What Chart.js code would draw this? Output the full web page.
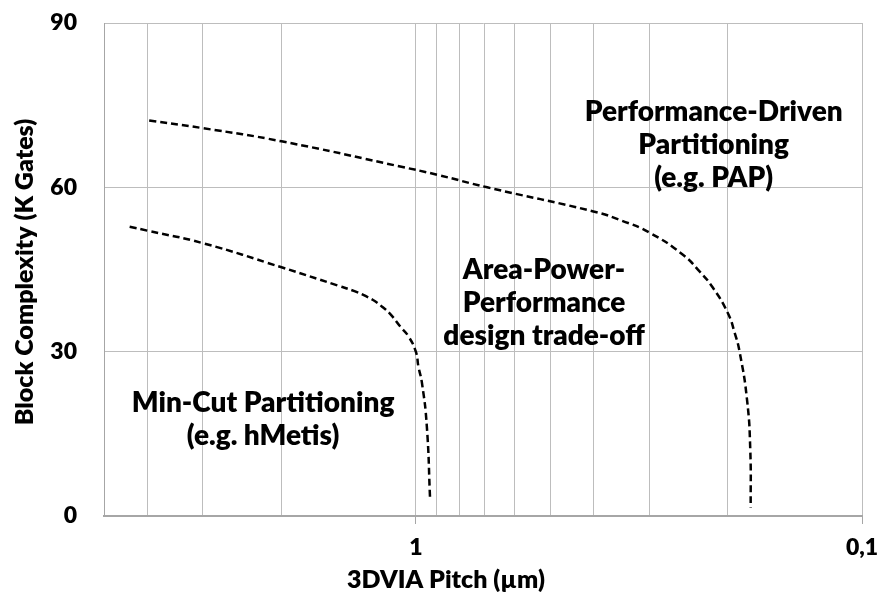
<!DOCTYPE html>
<html>
<head>
<meta charset="utf-8">
<script src="https://cdn.jsdelivr.net/npm/chart.js@4.4.0/dist/chart.umd.min.js"></script>
<style>
  html, body { margin: 0; padding: 0; background: #fff; }
  #wrap { width: 880px; height: 601px; }
</style>
</head>
<body>
<div id="wrap"><canvas id="pitchChart"></canvas></div>
<script>
// Partitioning regions: block complexity vs. 3D via pitch
const pitchUpper = [3.96, 3.0, 2.0, 1.084, 0.896, 0.692, 0.40, 0.345, 0.299, 0.252, 0.231, 0.216, 0.20, 0.193, 0.188, 0.181, 0.178, 0.1776];
const gatesUpper = [72.2, 70.8, 68.4, 63.8, 62.3, 60.0, 55.6, 53.9, 51.7, 47.7, 44.6, 41.7, 37.1, 33.5, 29.9, 21.2, 12.1, 1.5];

const pitchLower = [4.38, 4.0, 3.0, 2.0, 1.5, 1.368, 1.285, 1.234, 1.19, 1.142, 1.084, 1.039, 1.0, 0.987, 0.969, 0.945, 0.929];
const gatesLower = [52.8, 52.1, 49.8, 45.4, 42.1, 41.0, 40.0, 39.2, 38.2, 36.9, 34.6, 32.8, 30.0, 27.3, 24.3, 16.4, 3.0];

const pitchTicks = [0.1, 0.2, 0.3, 0.4, 0.5, 0.6, 0.7, 0.8, 0.9, 1, 2, 3, 4, 5];
const pitchLabels = { 1: '1', 0.1: '0,1' };
const gateTicks = [0, 30, 60, 90];

const xTitle = '3DVIA Pitch (\u00b5m)';
const yTitle = 'Block Complexity (K Gates)';

const regionNotes = [
    { lines: ['Performance-Driven', 'Partitioning', '(e.g. PAP)'], x: 0.215, y: 72.2 },
    { lines: ['Area-Power-', 'Performance', 'design trade-off'], x: 0.516, y: 43.2 },
    { lines: ['Min-Cut Partitioning', '(e.g. hMetis)'], x: 2.2, y: 19.0 }
];

const FONT = 'Lato, "Open Sans", sans-serif';
const GRID = '#bdbdbd';
const AXIS = '#a6a6a6';

const toPoints = (xs, ys) => xs.map((x, i) => ({ x: x, y: ys[i] }));

const curveStyle = {
    borderColor: '#000',
    borderWidth: 2.5,
    borderDash: [7, 4],
    pointRadius: 0,
    fill: false,
    tension: 0.5
};

// region captions and axis titles
const textLayer = {
    id: 'textLayer',
    afterDatasetsDraw(chart) {
        const { ctx, scales } = chart;
        ctx.save();
        ctx.fillStyle = '#000';
        ctx.textAlign = 'center';
        ctx.textBaseline = 'alphabetic';
        ctx.font = '800 28px ' + FONT;
        regionNotes.forEach(note => {
            const px = scales.x.getPixelForValue(note.x);
            const py = scales.y.getPixelForValue(note.y);
            note.lines.forEach((line, i) => ctx.fillText(line, px, py + i * 33));
        });

        ctx.font = '800 25px ' + FONT;
        ctx.textBaseline = 'middle';
        ctx.fillText(xTitle, 446, 580);

        ctx.translate(25, 272);
        ctx.rotate(-Math.PI / 2);
        ctx.fillText(yTitle, 0, 0);
        ctx.restore();
    }
};

new Chart(document.getElementById('pitchChart'), {
    type: 'line',
    data: {
        datasets: [
            Object.assign({ label: 'Performance-driven limit', data: toPoints(pitchUpper, gatesUpper) }, curveStyle),
            Object.assign({ label: 'Min-cut limit', data: toPoints(pitchLower, gatesLower) }, curveStyle)
        ]
    },
    options: {
        responsive: true,
        maintainAspectRatio: false,
        animation: false,
        layout: { padding: { left: 0, right: 18, top: 23, bottom: 0 } },
        plugins: {
            legend: { display: false },
            tooltip: { enabled: false }
        },
        scales: {
            x: {
                type: 'logarithmic',
                reverse: true,
                min: 0.1,
                max: 5,
                afterBuildTicks: axis => {
                    axis.ticks = pitchTicks.map(v => ({ value: v }));
                },
                afterFit: axis => { axis.height = 85; },
                grid: {
                    color: GRID,
                    lineWidth: 1,
                    tickLength: 8,
                    tickColor: ctx => (ctx.tick && pitchLabels[ctx.tick.value] ? AXIS : 'rgba(0,0,0,0)')
                },
                border: { color: AXIS, width: 2 },
                ticks: {
                    autoSkip: false,
                    maxRotation: 0,
                    padding: 10,
                    color: '#000',
                    font: { family: FONT, size: 23, weight: '800' },
                    callback: value => pitchLabels[value] || ''
                }
            },
            y: {
                min: 0,
                max: 90,
                afterBuildTicks: axis => {
                    axis.ticks = gateTicks.map(v => ({ value: v }));
                },
                afterFit: axis => { axis.width = 104; },
                // invisible tick marks keep the labels clear of the plot edge
                grid: { color: GRID, lineWidth: 1, tickLength: 24, tickColor: 'rgba(0,0,0,0)' },
                border: { color: AXIS, width: 1 },
                ticks: {
                    padding: 3,
                    color: '#000',
                    font: { family: FONT, size: 23, weight: '800' }
                }
            }
        }
    },
    plugins: [textLayer]
});
</script>
</body>
</html>
